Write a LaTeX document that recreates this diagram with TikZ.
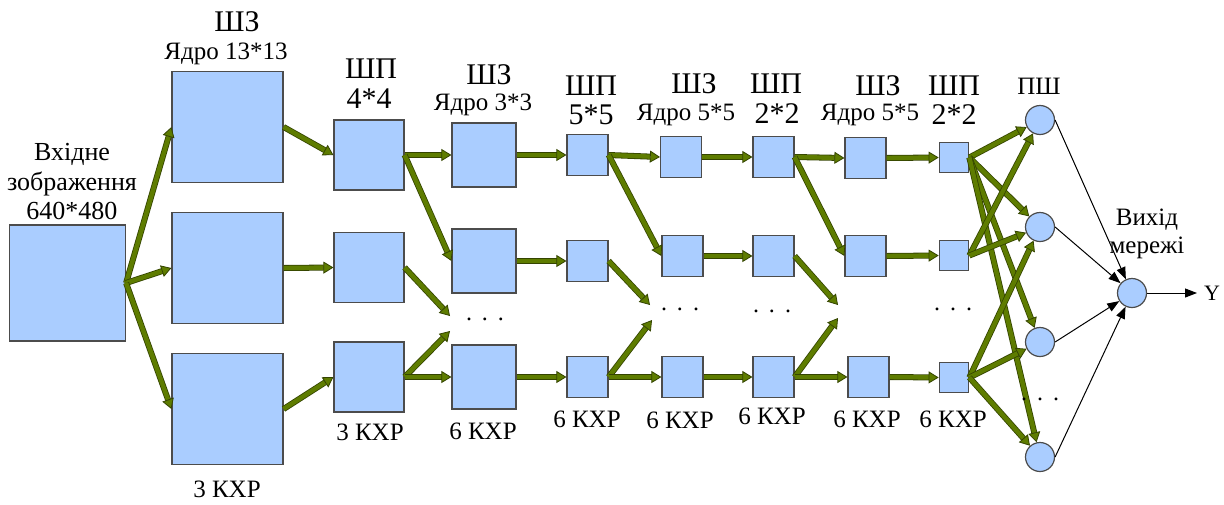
\documentclass[tikz,border=0pt]{standalone}
\usepackage{fontspec}
\setmainfont{Liberation Serif}
\usepackage{xcolor}
\usetikzlibrary{arrows.meta}
\definecolor{mapblue}{RGB}{170,205,255}
\definecolor{olivefill}{RGB}{94,124,0}
\definecolor{olivedark}{RGB}{52,68,0}

\begin{document}
\begin{tikzpicture}[x=0.5pt,y=-0.5pt,
	fmap/.style={draw=black!70,fill=mapblue,line width=0.6pt,inner sep=0pt,minimum size=#1*0.5pt},
	neuron/.style={circle,draw=black!70,fill=mapblue,line width=0.6pt,inner sep=0pt,minimum size=14.5pt},
	flow/.style={draw=olivedark,line width=0.4pt,double=olivefill,double distance=2.2pt,
		-{Triangle[length=5pt,width=6pt,fill=olivefill,line width=0.4pt]}},
	wire/.style={black,line width=0.5pt,-{Triangle[length=6pt,width=4.5pt]}},
	layer/.style={font=\fontsize{15}{17}\selectfont},
	kernel/.style={font=\fontsize{12.5}{14}\selectfont},
	maps/.style={font=\fontsize{12.5}{14}\selectfont},
	skipdots/.style={anchor=base,font=\fontsize{12}{14}\selectfont}]
	\useasboundingbox (0,0) rectangle (1224,504);
	
	% input image
	\node[fmap=116] (in) at (67.5,283) {};
	\node[align=center,font=\fontsize{13}{14.75}\selectfont] (intext) at (72,182) {Вхідне\\зображення\\640*480};
	
	% convolution, kernel 13*13
	\node[fmap=111] (a1) at (227.5,127) {};
	\node[fmap=111] (a2) at (227.5,268) {};
	\node[fmap=111] (a3) at (227.5,409) {};
	\node[layer] (hdA) at (237,22) {ШЗ};
	\node[kernel] (kA) at (226,54) {Ядро 13*13};
	\node[maps] (nA) at (227,489) {3 КХР};
	
	% pooling 4*4
	\node[fmap=70] (b1) at (369,155) {};
	\node[fmap=70] (b2) at (369,267.5) {};
	\node[fmap=70] (b3) at (369,377) {};
	\node[layer] (hdB) at (371,69) {ШП};
	\node[layer] (kB) at (369,99) {4*4};
	\node[maps] (nB) at (370,432) {3 КХР};
	
	% convolution, kernel 3*3
	\node[fmap=64] (c1) at (484,155) {};
	\node[fmap=64] (c2) at (484,261) {};
	\node[fmap=64] (c3) at (484,377) {};
	\node[layer] (hdC) at (489,75) {ШЗ};
	\node[kernel] (kC) at (483,105) {Ядро 3*3};
	\node[maps] (nC) at (483,431) {6 КХР};
	\coordinate (c2in) at (450,316);
	\coordinate (c3in) at (450,331);
	
	% pooling 5*5
	\node[fmap=41] (d1) at (587.5,155) {};
	\node[fmap=41] (d2) at (587.5,261) {};
	\node[fmap=41] (d3) at (587.5,377) {};
	\node[layer] (hdD) at (591,86) {ШП};
	\node[layer] (kD) at (591,115) {5*5};
	\node[maps] (nD) at (587,419) {6 КХР};
	
	% convolution, kernel 5*5
	\node[fmap=41] (e1) at (681,157) {};
	\node[fmap=41] (e2) at (682.5,256) {};
	\node[fmap=41] (e3) at (682.5,377) {};
	\node[layer] (hdE) at (694,84) {ШЗ};
	\node[kernel] (kE) at (686,115) {Ядро 5*5};
	\node[maps] (nE) at (680,420) {6 КХР};
	\coordinate (e2in) at (650,305);
	\coordinate (e3in) at (652,320);
	
	% pooling 2*2
	\node[fmap=41] (f1) at (773.5,157) {};
	\node[fmap=41] (f2) at (773.5,256) {};
	\node[fmap=41] (f3) at (773.5,377) {};
	\node[layer] (hdF) at (776,84) {ШП};
	\node[layer] (kF) at (777,114) {2*2};
	\node[maps] (nF) at (772,416) {6 КХР};
	
	% convolution, kernel 5*5
	\node[fmap=41] (g1) at (865.5,158) {};
	\node[fmap=41] (g2) at (865.5,256) {};
	\node[fmap=41] (g3) at (868.5,377) {};
	\node[layer] (hdG) at (878,86) {ШЗ};
	\node[kernel] (kG) at (870,115) {Ядро 5*5};
	\node[maps] (nG) at (867,419) {6 КХР};
	\coordinate (g2in) at (838,305);
	\coordinate (g3in) at (838,318);
	
	% pooling 2*2
	\node[fmap=29.5] (h1) at (954,157.5) {};
	\node[fmap=29.5] (h2) at (954,255.5) {};
	\node[fmap=29.5] (h3) at (954,377.5) {};
	\node[layer] (hdH) at (954,86) {ШП};
	\node[layer] (kH) at (954,115) {2*2};
	\node[maps] (nH) at (953,419) {6 КХР};
	
	% fully connected layer
	\node[neuron] (p1) at (1040,120) {};
	\node[neuron] (p2) at (1040,227) {};
	\node[neuron] (p3) at (1040,342) {};
	\node[neuron] (p4) at (1040,457) {};
	\node[kernel] (hdP) at (1039,86) {ПШ};
	
	% output
	\node[neuron] (o) at (1132,293) {};
	\node[align=center,font=\fontsize{12.5}{14}\selectfont] (otext) at (1147,234) {Вихід\\мережі};
	\node[font=\fontsize{11}{13}\selectfont] (yout) at (1212,293) {Y};
	
	\draw[flow] (in.east) -- (a1.west);
	\draw[flow] (in.east) -- (a2.west);
	\draw[flow] (in.east) -- (a3.west);
	
	\draw[flow] (a1.east) -- (b1.west);
	\draw[flow] (a2.east) -- (b2.west);
	\draw[flow] (a3.east) -- (b3.west);
	
	\draw[flow] (b1.east) -- (c1.west);
	\draw[flow] (b1.east) -- (c2.west);
	\draw[flow] (b2.east) -- (c2in);
	\draw[flow] (b3.east) -- (c3in);
	\draw[flow] (b3.east) -- (c3.west);
	
	\draw[flow] (c1.east) -- (d1.west);
	\draw[flow] (c2.east) -- (d2.west);
	\draw[flow] (c3.east) -- (d3.west);
	
	\draw[flow] (d1.east) -- (e1.west);
	\draw[flow] (d1.east) -- (e2.west);
	\draw[flow] (d2.east) -- (e2in);
	\draw[flow] (d3.east) -- (e3in);
	\draw[flow] (d3.east) -- (e3.west);
	
	\draw[flow] (e1.east) -- (f1.west);
	\draw[flow] (e2.east) -- (f2.west);
	\draw[flow] (e3.east) -- (f3.west);
	
	\draw[flow] (f1.east) -- (g1.west);
	\draw[flow] (f1.east) -- (g2.west);
	\draw[flow] (f2.east) -- (g2in);
	\draw[flow] (f3.east) -- (g3in);
	\draw[flow] (f3.east) -- (g3.west);
	
	\draw[flow] (g1.east) -- (h1.west);
	\draw[flow] (g2.east) -- (h2.west);
	\draw[flow] (g3.east) -- (h3.west);
	
	\draw[flow] (h1.east) -- (p1);
	\draw[flow] (h1.east) -- (p2);
	\draw[flow] (h1.east) -- (p3);
	\draw[flow] (h1.east) -- (p4);
	\draw[flow] (h2.east) -- (p1);
	\draw[flow] (h2.east) -- (p2);
	\draw[flow] (h3.east) -- (p2);
	\draw[flow] (h3.east) -- (p3);
	\draw[flow] (h3.east) -- (p4);
	
	\draw[wire] (p1.east) -- (o);
	\draw[wire] (p2.east) -- (o);
	\draw[wire] (p3.east) -- (o);
	\draw[wire] (p4.east) -- (o);
	\draw[wire] (o) -- (yout);
	
	% skipped maps and neurons
	\node[skipdots] (dC) at (485,320) {.\hspace{5pt}.\hspace{5pt}.};
	\node[skipdots] (dE) at (680,310) {.\hspace{5pt}.\hspace{5pt}.};
	\node[skipdots] (dF) at (772,312) {.\hspace{5pt}.\hspace{5pt}.};
	\node[skipdots] (dH) at (953,310) {.\hspace{5pt}.\hspace{5pt}.};
	\node[skipdots] (dP) at (1040,400) {.\hspace{5pt}.\hspace{5pt}.};
\end{tikzpicture}
\end{document}
